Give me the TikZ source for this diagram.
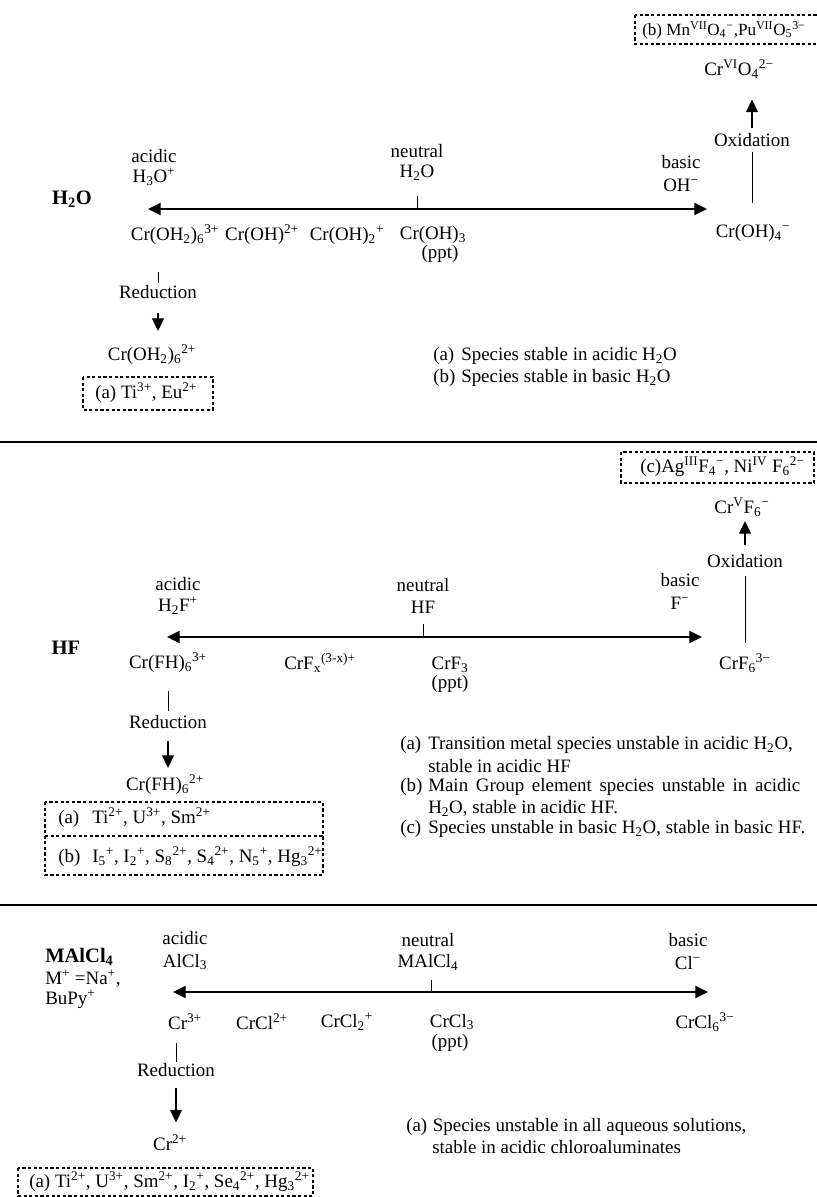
\documentclass[tikz,border=0pt]{standalone}
\usepackage{fontspec}
\setmainfont{Liberation Serif}
\usetikzlibrary{arrows.meta}
\newcommand\myd[1]{\textsubscript{#1}}
\newcommand\myu[1]{\textsuperscript{#1}}
\begin{document}
\begin{tikzpicture}[x=0.75pt,y=-0.75pt,
  every node/.style={inner sep=0pt, font=\fontsize{14.2}{16}\selectfont},
  ttl/.style={font=\fontsize{15.4}{18}\selectfont\bfseries},
  mainarr/.style={line width=1.5pt, {Triangle[length=9.5pt,width=9pt]}-{Triangle[length=9.5pt,width=9pt]}},
  thinln/.style={line width=0.7pt},
  onearr/.style={line width=1pt, -{Triangle[length=9.5pt,width=9pt]}},
  dbox/.style={line width=0.8pt, dash pattern=on 2.4pt off 1.8pt},
  divider/.style={line width=1.5pt},
  lgd/.style={anchor=west},
]
\useasboundingbox (0,0) rectangle (817,1197);

% ---------------- H2O section ----------------
\node[ttl] (tH2O) at (72,199) {H\myd{2}O};
\node (acid1) at (154,156) {acidic};
\node (acid1b) at (154,177) {H\myd{3}O\myu{+}};
\node (neu1) at (417,151) {neutral};
\node (neu1b) at (417,173) {H\myd{2}O};
\node (bas1) at (681,162) {basic};
\node (bas1b) at (681,185) {OH\myu{−}};
\coordinate (L1) at (148,209);
\coordinate (R1) at (707,209);
\coordinate (T1) at (417,209);
\draw[mainarr] (L1) -- (R1);
\draw[thinln] (T1) -- ++(0,-13);

\node (s11) at (175,235) {Cr(OH\myd{2})\myd{6}\myu{3+}};
\node (s12) at (262,235) {Cr(OH)\myu{2+}};
\node (s13) at (347,235) {Cr(OH)\myd{2}\myu{+}};
\node (s14) at (433,235) {Cr(OH)\myd{3}};
\node (p1) at (440,254) {(ppt)};
\node (s15) at (753,233) {Cr(OH)\myd{4}\myu{−}};

\node (red1) at (158,292) {Reduction};
\node (pr1) at (152,355) {Cr(OH\myd{2})\myd{6}\myu{2+}};
\draw[thinln] (red1.north) ++(0,-2.5) -- ++(0,-11);
\draw[onearr] (red1.south) ++(0,14) -- ++(0,18);

\node (ox1) at (752,140) {Oxidation};
\node (crvi) at (739,69) {Cr\myu{VI}O\myd{4}\myu{2−}};
\draw[thinln] (ox1.south) ++(0,5.5) -- ++(0,51);
\draw[onearr] (ox1.north) ++(0,-5.5) -- ++(0,-28);

\draw[dbox] (635,15) rectangle (820,44);
\node[anchor=west, font=\fontsize{12.8}{15}\selectfont] (bxb) at (642,30) {(b) Mn\myu{VII}O\myd{4}\myu{−},Pu\myu{VII}O\myd{5}\myu{3−}};

\draw[dbox] (83,377) rectangle (213,410);
\node[anchor=west] (bxa1) at (95,393) {(a) Ti\myu{3+}, Eu\myu{2+}};

\node[lgd] (lg1a) at (433,356) {\makebox[21pt][l]{(a)}Species stable in acidic H\myd{2}O};
\node[lgd] (lg1b) at (433,378) {\makebox[21pt][l]{(b)}Species stable in basic H\myd{2}O};

\draw[divider] (0,442) -- (817,442);

% ---------------- HF section ----------------
\draw[dbox] (621,452) rectangle (814,483);
\node[anchor=west] (bxc) at (640,467) {(c)Ag\myu{III}F\myd{4}\myu{−}, Ni\myu{IV} F\myd{6}\myu{2−}};
\node (crv) at (742,507) {Cr\myu{V}F\myd{6}\myu{−}};
\node (ox2) at (745,561) {Oxidation};
\draw[thinln] (ox2.south) ++(0,8) -- ++(0,67);
\draw[onearr] (ox2.north) ++(0,-9) -- ++(0,-24);

\node[ttl] (tHF) at (66,648) {HF};
\node (acid2) at (178,584) {acidic};
\node (acid2b) at (178,606) {H\myd{2}F\myu{+}};
\node (neu2) at (423,585) {neutral};
\node (neu2b) at (423,607) {HF};
\node (bas2) at (680,580) {basic};
\node (bas2b) at (680,603) {F\myu{−}};
\coordinate (L2) at (167,637);
\coordinate (R2) at (702,637);
\coordinate (T2) at (423,637);
\draw[mainarr] (L2) -- (R2);
\draw[thinln] (T2) -- ++(0,-13);

\node (s21) at (168,663) {Cr(FH)\myd{6}\myu{3+}};
\node (s22) at (320,663) {CrF\myd{x}\myu{(3-x)+}};
\node (s23) at (450,665) {CrF\myd{3}};
\node (p2) at (450,684) {(ppt)};
\node (s24) at (745,663) {CrF\myd{6}\myu{3−}};

\node (red2) at (168,722) {Reduction};
\node (pr2) at (165,785) {Cr(FH)\myd{6}\myu{2+}};
\draw[thinln] (red2.north) ++(0,-4) -- ++(0,-20);
\draw[onearr] (red2.south) ++(0,12) -- ++(0,27);

\draw[dbox] (45,802) rectangle (323,875);
\draw[dbox] (45,836) -- (323,836);
\node[anchor=west] (bx2a) at (58,818) {\makebox[25.5pt][l]{(a)}Ti\myu{2+}, U\myu{3+}, Sm\myu{2+}};
\node[anchor=west] (bx2b) at (58,857) {\makebox[25.5pt][l]{(b)}I\myd{5}\myu{+}, I\myd{2}\myu{+}, S\myd{8}\myu{2+}, S\myd{4}\myu{2+}, N\myd{5}\myu{+}, Hg\myd{3}\myu{2+}};

\node[lgd] (lg2a) at (400,745) {\makebox[21pt][l]{(a)}Transition metal species unstable in acidic H\myd{2}O,};
\node[lgd] (lg2a2) at (428,766) {stable in acidic HF};
\node[lgd] (lg2b) at (400,787) {\makebox[21pt][l]{(b)}\makebox[279pt][s]{Main Group element species unstable in acidic}};
\node[lgd] (lg2b2) at (428,808) {H\myd{2}O, stable in acidic HF.};
\node[lgd] (lg2c) at (400,829) {\makebox[21pt][l]{(c)}Species unstable in basic H\myd{2}O, stable in basic HF.};

\draw[divider] (0,905) -- (817,905);

% ---------------- MAlCl4 section ----------------
\node[ttl, anchor=west] (tM) at (45,957) {MAlCl\myd{4}};
\node[anchor=west] (tM2) at (45,979) {M\myu{+} =Na\myu{+},};
\node[anchor=west] (tM3) at (45,999) {BuPy\myu{+}};
\node (acid3) at (185,938) {acidic};
\node (acid3b) at (185,962) {AlCl\myd{3}};
\node (neu3) at (428,940) {neutral};
\node (neu3b) at (428,962) {MAlCl\myd{4}};
\node (bas3) at (688,940) {basic};
\node (bas3b) at (688,963) {Cl\myu{−}};
\coordinate (L3) at (173,992);
\coordinate (R3) at (708,992);
\coordinate (T3) at (431,992);
\draw[mainarr] (L3) -- (R3);
\draw[thinln] (T3) -- ++(0,-12);

\node (s31) at (185,1022) {Cr\myu{3+}};
\node (s32) at (262,1022) {CrCl\myu{2+}};
\node (s33) at (347,1022) {CrCl\myd{2}\myu{+}};
\node (s34) at (452,1022) {CrCl\myd{3}};
\node (p3) at (450,1043) {(ppt)};
\node (s35) at (705,1022) {CrCl\myd{6}\myu{3−}};

\node (red3) at (176,1070) {Reduction};
\node (pr3) at (170,1143) {Cr\myu{2+}};
\draw[thinln] (red3.north) ++(0,-1.5) -- ++(0,-19);
\draw[onearr] (red3.south) ++(0,11.5) -- ++(0,34);

\draw[dbox] (18,1168) rectangle (313,1196);
\node[anchor=west] (bx3a) at (29,1182) {(a) Ti\myu{2+}, U\myu{3+}, Sm\myu{2+}, I\myd{2}\myu{+}, Se\myd{4}\myu{2+}, Hg\myd{3}\myu{2+}};

\node[lgd] (lg3a) at (406,1127) {\makebox[20pt][l]{(a)}Species unstable in all aqueous solutions,};
\node[lgd] (lg3a2) at (432,1147) {stable in acidic chloroaluminates};
\end{tikzpicture}
\end{document}
